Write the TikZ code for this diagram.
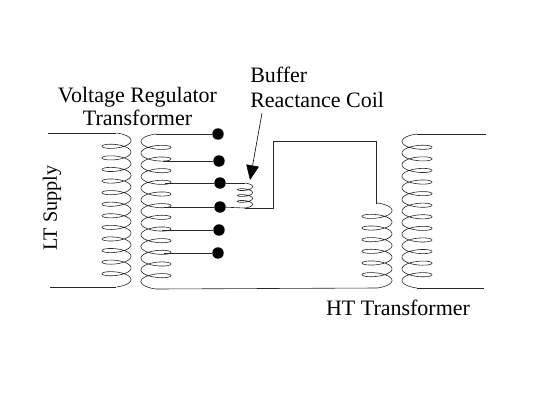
\documentclass[tikz,border=0pt]{standalone}
\usepackage{fontspec}
\setmainfont{Liberation Serif}
\usetikzlibrary{arrows.meta}
% #1 centre x, #2 top y, #3 bottom y, #4 half width (negative bulges left), #5 strand height, #6 turns
\newcommand{\coilplot}[6]{%
  \draw[wire] plot[domain=-90:{360*#6+90}, samples={36*#6+19}, smooth, variable=\t]
    ({#1+#4*cos(\t)}, {#2+((\t+90)/360)*((#3-#2-2*#5)/(#6+0.5))+#5*(sin(\t)+1)});}

\begin{document}
\begin{tikzpicture}[
  x=0.75pt, y=-0.75pt,
  wire/.style={line width=0.45pt, color=black!85},
  tapdot/.style={circle, fill=black, inner sep=0pt, minimum size=8.6pt},
  lbl/.style={font=\fontsize{16.5}{18}\selectfont, inner sep=0pt},
  arrow/.style={-{Triangle[length=11pt, width=9.5pt]}, line width=0.45pt, color=black}
]
\useasboundingbox (0,0) rectangle (534,400);

% tap points
\node[tapdot] (tap_a) at (218,134) {};
\node[tapdot] (tap_b) at (219,161) {};
\node[tapdot] (tap_c) at (220,183) {};
\node[tapdot] (tap_d) at (220,207) {};
\node[tapdot] (tap_e) at (219,230) {};
\node[tapdot] (tap_f) at (218,253) {};

% coil ends
\coordinate (lt_in) at (48,133);
\coordinate (lt_out) at (50,287);
\coordinate (lt_top) at (116,133);
\coordinate (lt_bot) at (116,287);
\coordinate (reg_top) at (156,134);
\coordinate (reg_bot) at (156,289);
\coordinate (reg_b) at (163,161);
\coordinate (reg_c) at (165,183);
\coordinate (reg_d) at (164,207);
\coordinate (reg_e) at (162,230);
\coordinate (reg_f) at (164,253);
\coordinate (buf_top) at (245,183);
\coordinate (buf_bot) at (245,208);
\coordinate (ht_top) at (377,203);
\coordinate (ht_bot) at (377,288);
\coordinate (sec_top) at (417,134);
\coordinate (sec_bot) at (417,288);
\coordinate (sec_in) at (486,134);
\coordinate (sec_out) at (484,288);
\coordinate (arrow_from) at (262,113);
\coordinate (arrow_to) at (250,180);

% coils
\coilplot{116.5}{133}{287}{14.5}{4.6}{12}
\coilplot{156}{134}{289}{-15}{4.6}{12}
\coilplot{245}{183}{208}{7.5}{2.2}{3}
\coilplot{377}{203}{288}{15}{4.6}{6}
\coilplot{417}{134}{288}{-15}{4.6}{12}

% wiring
\draw[wire] (lt_in) -- (lt_top);
\draw[wire] (lt_out) -- (lt_bot);
\draw[wire] (reg_top) -- (tap_a);
\draw[wire] (reg_b) -- (tap_b);
\draw[wire] (reg_c) -- (tap_c);
\draw[wire] (reg_d) -- (tap_d);
\draw[wire] (reg_e) -- (tap_e);
\draw[wire] (reg_f) -- (tap_f);
\draw[wire] (tap_c) -- (buf_top);
\draw[wire] (tap_d) -- (buf_bot);
\draw[wire] (buf_bot) -- (273,208) -- (273,141) -- (376,141) -- (376,203) -- (ht_top);
\draw[wire] (reg_bot) -- (ht_bot);
\draw[wire] (sec_top) -- (sec_in);
\draw[wire] (sec_bot) -- (sec_out);
\draw[arrow] (arrow_from) -- (arrow_to);

% labels
\node[lbl, anchor=base] (reg_lbl) at (137.5,102) {Voltage Regulator};
\node[lbl, anchor=base] (reg_lbl2) at (137.5,125) {Transformer};
\node[lbl, anchor=base west] (buf_lbl) at (250,82) {Buffer};
\node[lbl, anchor=base west] (buf_lbl2) at (250,107) {Reactance Coil};
\node[lbl, rotate=90, font=\fontsize{15.2}{18}\selectfont] (lt_lbl) at (52,208) {LT Supply};
\node[lbl, anchor=base] (ht_lbl) at (398,315) {HT Transformer};
\end{tikzpicture}
\end{document}
